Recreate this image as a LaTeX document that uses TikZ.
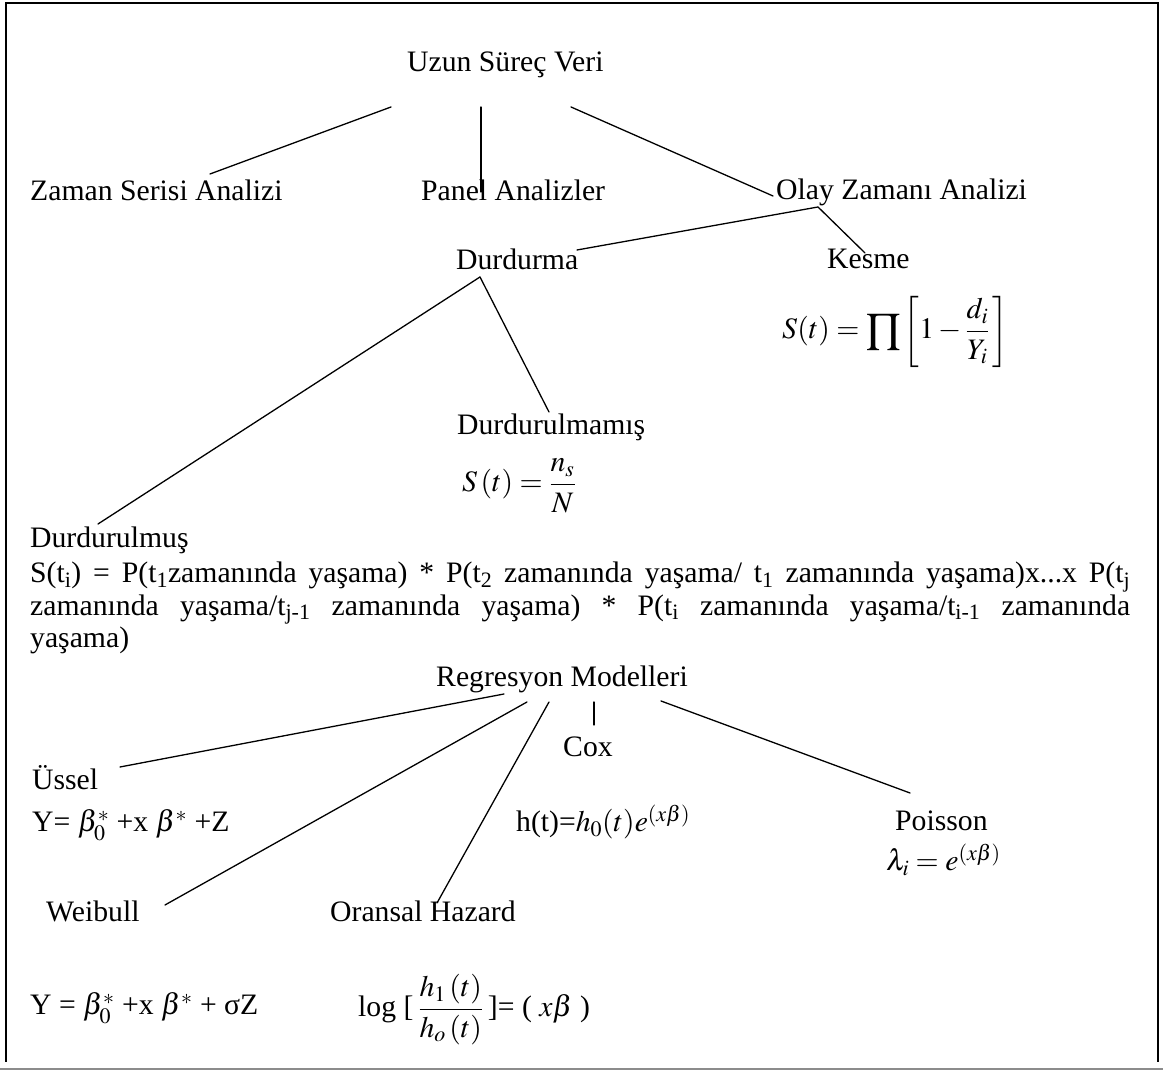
\documentclass[tikz,border=0pt]{standalone}
\usepackage{amsmath}
\usepackage{mathptmx}
\usepackage{fontspec}
\setmainfont{Liberation Serif}

\begin{document}
\begin{tikzpicture}[
  x=1pt, y=1pt,
  font=\fontsize{29.7}{32.5}\selectfont,
  lbl/.style={inner sep=0pt, anchor=base west},
  eqn/.style={lbl},
  br/.style={line width=1.3pt, line cap=round},
  frm/.style={line width=2pt}
]
\useasboundingbox (0,0) rectangle (1163,1070);
% frame, open at the bottom
\draw[frm] (6,8) -- (6,1067) -- (1158,1067) -- (1158,8);
\draw[black!45, line width=1.5pt] (0,1) -- (1163,1);

\node[lbl] (uzun)  at (407,998) {Uzun Süreç Veri};
\node[lbl] (zaman) at (30,869)  {Zaman Serisi Analizi};
\node[lbl] (panel) at (421,869) {Panel Analizler};
\node[lbl] (olay)  at (776,870) {Olay Zamanı Analizi};
\node[lbl] (durd)  at (456,800) {Durdurma};
\node[lbl] (kesme) at (827,801) {Kesme};
\node[eqn] (kesmeq) at (782,731)
  {$S(t)=\mathop{\vcenter{\hbox{\scalebox{1.4}{$\prod$}}}}\left[1-\dfrac{d_i}{Y_i}\,\right]$};
\node[lbl] (durdmamis) at (457,635) {Durdurulmamış};
\node[eqn] (mamiseq) at (462,578) {$S\left(t\right)=\dfrac{n_s}{N}$};
\node[lbl] (durdmus) at (30,522) {Durdurulmuş};
\node[lbl, text width=1100pt, align=justify] (prob) at (30,487)
  {S(t\textsubscript{i}) = P(t\textsubscript{1}zamanında yaşama) * P(t\textsubscript{2} zamanında yaşama/ t\textsubscript{1} zamanında yaşama)x...x P(t\textsubscript{j} \linebreak zamanında yaşama/t\textsubscript{j-1} zamanında yaşama) * P(t\textsubscript{i} zamanında yaşama/t\textsubscript{i-1} zamanında \linebreak yaşama)};
\node[lbl] (regr)    at (436,383) {Regresyon Modelleri};
\node[lbl] (cox)     at (563,313) {Cox};
\node[lbl] (ussel)   at (32,280)  {Üssel};
\node[eqn] (usseleq) at (32,238)  {Y= $\beta_0^*$ +x $\beta^*$ +Z};
\node[eqn] (coxeq)   at (516,238) {h(t)=$h_0(t)e^{(x\beta)}$};
\node[lbl] (poisson) at (895,239) {Poisson};
\node[eqn] (poissoneq) at (886,199) {$\lambda_i=e^{(x\beta)}$};
\node[lbl] (weibull) at (46,148)  {Weibull};
\node[lbl] (oransal) at (330,148) {Oransal Hazard};
\node[eqn] (weibulleq) at (30,55) {Y = $\beta_0^*$ +x $\beta^*$ + σZ};
\node[eqn] (oransaleq) at (358,53)
  {log [\,$\dfrac{h_1\left(t\right)}{h_o\left(t\right)}$\,]= ( $x\beta$ )};

% branches
\draw[br] ([shift={(-16,-35)}]uzun.base west) -- ([shift={(180,27)}]zaman.base west);
\draw[br] ([shift={(74,-35)}]uzun.base west) -- ([shift={(60,9)}]panel.base west);
\draw[br] ([shift={(164,-35)}]uzun.base west) -- ([shift={(-3,4)}]olay.base west);
\draw[br] ([shift={(42,-7)}]olay.base west) -- ([shift={(121,20)}]durd.base west);
\draw[br] ([shift={(42,-7)}]olay.base west) -- ([shift={(38,16)}]kesme.base west);
\draw[br] ([shift={(24,-7)}]durd.base west) -- ([shift={(68,24)}]durdmus.base west);
\draw[br] ([shift={(24,-7)}]durd.base west) -- ([shift={(92,23)}]durdmamis.base west);
\draw[br] ([shift={(68,-7)}]regr.base west) -- ([shift={(88,23)}]ussel.base west);
\draw[br] ([shift={(91,-15)}]regr.base west) -- ([shift={(119,17)}]weibull.base west);
\draw[br] ([shift={(113,-15)}]regr.base west) -- ([shift={(107,19)}]oransal.base west);
\draw[br] ([shift={(158,-15)}]regr.base west) -- ([shift={(31,32)}]cox.base west);
\draw[br] ([shift={(225,-14)}]regr.base west) -- ([shift={(15,38)}]poisson.base west);
\end{tikzpicture}
\end{document}
